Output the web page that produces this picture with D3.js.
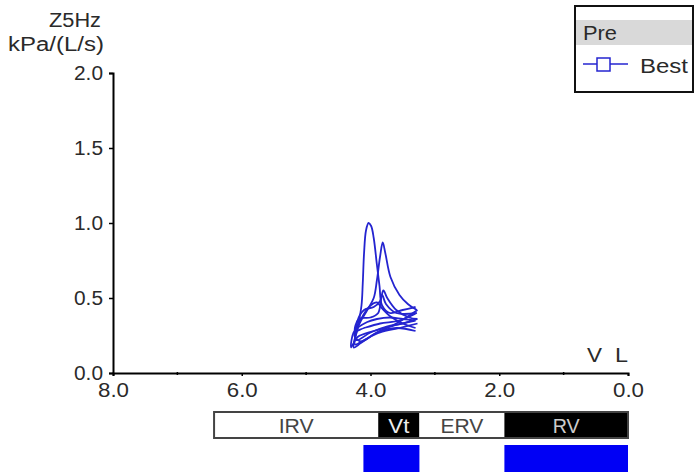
<!DOCTYPE html>
<html>
<head>
<meta charset="utf-8">
<script src="https://cdn.jsdelivr.net/npm/d3@7"></script>
<style>
  html, body { margin: 0; padding: 0; background: #fff; }
  svg { display: block; font-family: "Liberation Sans", Arial, sans-serif; }
</style>
</head>
<body>
<svg id="chart" width="695" height="472"></svg>
<script>
// Axis ticks
const xTicks = [8, 6, 4, 2, 0];
const xMinorTicks = [7, 5, 3, 1];
const yTicks = [0, 0.5, 1.0, 1.5, 2.0];

// Lung volume compartments (L), left to right on the reversed volume axis
const compartments = ["IRV", "Vt", "ERV", "RV"];
const compartmentEdges = [6.43, 3.88, 3.24, 1.92, 0.0];
const compartmentFill = ["#fff", "#000", "#fff", "#000"];
const compartmentText = ["#444", "#eee", "#444", "#ccc"];
const compartmentLabelWidth = [35, 21, 43, 27];

// Measured volume ranges shown under the compartment bar
const measuredRanges = [[4.11, 3.24], [1.92, 0.0]];

// Z5Hz impedance loops, one per breath: [volume L, kPa/(L/s)]
const breath1 = [[3.27,0.42],[3.60,0.33],[3.90,0.27],[4.15,0.20],[4.26,0.17],[4.20,0.30],[4.14,0.45],[4.12,0.60],[4.10,0.80],[4.07,0.95],[4.03,1.00],[3.99,0.98],[3.95,0.90],[3.90,0.72],[3.86,0.58],[3.82,0.45],[3.70,0.40],[3.50,0.42],[3.30,0.44]];
const breath2 = [[3.27,0.33],[3.55,0.30],[3.85,0.27],[4.10,0.22],[4.24,0.19],[4.18,0.32],[4.05,0.42],[3.95,0.50],[3.90,0.62],[3.85,0.78],[3.81,0.87],[3.77,0.80],[3.69,0.64],[3.55,0.52],[3.42,0.46],[3.28,0.42]];
const breath3 = [[3.27,0.36],[3.50,0.33],[3.75,0.31],[4.00,0.27],[4.22,0.22],[4.20,0.35],[4.10,0.42],[3.95,0.44],[3.85,0.48],[3.80,0.55],[3.74,0.50],[3.60,0.42],[3.40,0.37],[3.27,0.36]];
const breath4 = [[3.30,0.28],[3.60,0.30],[3.90,0.27],[4.15,0.21],[4.25,0.25],[4.12,0.38],[4.00,0.45],[3.90,0.47],[3.82,0.43],[3.70,0.38],[3.50,0.33],[3.30,0.30]];
const breath5 = [[3.28,0.40],[3.55,0.35],[3.85,0.33],[4.10,0.30],[4.24,0.28],[4.18,0.36],[4.00,0.37],[3.88,0.40],[3.82,0.52],[3.76,0.46],[3.60,0.40],[3.28,0.40]];
const breath6 = [[3.30,0.35],[3.60,0.32],[3.95,0.28],[4.20,0.24],[4.30,0.17],[4.25,0.28],[4.05,0.34],[3.90,0.36],[3.70,0.37],[3.50,0.36],[3.30,0.35]];
const breaths = [breath1, breath2, breath3, breath4, breath5, breath6];

const svg = d3.select("#chart");
const x = d3.scaleLinear().domain([8, 0]).range([113, 628]);
const y = d3.scaleLinear().domain([0, 2]).range([373, 73]);
const textColor = "#2a2a2a";
const lineBlue = "#2424d0";
const fontSize = 20;

// Text fitted to a given width (the chart's lettering is set wide)
function label(parent, px, py, txt, width, anchor, fill) {
  return parent.append("text")
    .attr("x", px).attr("y", py)
    .attr("text-anchor", anchor)
    .attr("font-size", fontSize)
    .attr("fill", fill || textColor)
    .attr("textLength", width)
    .attr("lengthAdjust", "spacingAndGlyphs")
    .text(txt);
}

// Axes
const xAxis = d3.axisBottom(x).tickValues(xTicks).tickFormat(d3.format(".1f")).tickSize(3).tickPadding(7);
const gx = svg.append("g").attr("transform", `translate(0,${y(0)})`).call(xAxis);
gx.select(".domain").attr("stroke", "#000").attr("stroke-width", 2);
gx.selectAll(".tick line").attr("stroke", "#000").attr("stroke-width", 1.5);
gx.selectAll(".tick text").attr("font-size", fontSize).attr("fill", textColor)
  .attr("font-family", "Liberation Sans, Arial, sans-serif")
  .attr("textLength", 31).attr("lengthAdjust", "spacingAndGlyphs");
gx.selectAll(".minor").data(xMinorTicks).enter().append("line")
  .attr("class", "minor")
  .attr("x1", d => x(d)).attr("x2", d => x(d)).attr("y1", -1).attr("y2", 2)
  .attr("stroke", "#000").attr("stroke-width", 1.5);

const yAxis = d3.axisLeft(y).tickValues(yTicks).tickFormat(d3.format(".1f")).tickSize(4).tickPadding(6);
const gy = svg.append("g").attr("transform", `translate(${x(8)},0)`).call(yAxis);
gy.select(".domain").attr("stroke", "#000").attr("stroke-width", 2);
gy.selectAll(".tick line").attr("stroke", "#000").attr("stroke-width", 1.5);
gy.selectAll(".tick text").attr("font-size", fontSize).attr("fill", textColor)
  .attr("font-family", "Liberation Sans, Arial, sans-serif")
  .attr("textLength", 29).attr("lengthAdjust", "spacingAndGlyphs");

// Axis titles
label(svg, 101, 27, "Z5Hz", 52, "end");
label(svg, 104, 51, "kPa/(L/s)", 96, "end");
label(svg, 587, 362, "V", 15, "start");
label(svg, 615, 362, "L", 13, "start");

// Impedance loops
const line = d3.line().x(d => x(d[0])).y(d => y(d[1])).curve(d3.curveCatmullRom.alpha(0.5));
svg.append("g").selectAll("path").data(breaths).enter().append("path")
  .attr("d", line).attr("fill", "none").attr("stroke", lineBlue)
  .attr("stroke-width", 1.8).attr("stroke-linejoin", "round");

// Compartment bar
const barTop = 412, barH = 26;
const bar = svg.append("g");
compartments.forEach((name, i) => {
  const x0 = x(compartmentEdges[i]), x1 = x(compartmentEdges[i + 1]);
  bar.append("rect").attr("x", x0).attr("y", barTop).attr("width", x1 - x0).attr("height", barH)
    .attr("fill", compartmentFill[i]);
  label(bar, (x0 + x1) / 2, barTop + 21, name, compartmentLabelWidth[i], "middle", compartmentText[i]);
});
bar.append("rect").attr("x", x(compartmentEdges[0])).attr("y", barTop)
  .attr("width", x(compartmentEdges[4]) - x(compartmentEdges[0])).attr("height", barH)
  .attr("fill", "none").attr("stroke", "#444").attr("stroke-width", 2);

// Measured ranges
svg.append("g").selectAll("rect").data(measuredRanges).enter().append("rect")
  .attr("x", d => x(d[0])).attr("y", 445)
  .attr("width", d => x(d[1]) - x(d[0])).attr("height", 27)
  .attr("fill", "#0000f5");

// Legend
const lg = svg.append("g");
lg.append("rect").attr("x", 575).attr("y", 6).attr("width", 118).attr("height", 86)
  .attr("fill", "#fff").attr("stroke", "#111").attr("stroke-width", 2);
lg.append("rect").attr("x", 576).attr("y", 20).attr("width", 116).attr("height", 25).attr("fill", "#d9d9d9");
label(lg, 583, 40, "Pre", 34, "start");
lg.append("line").attr("x1", 583).attr("x2", 628).attr("y1", 64).attr("y2", 64)
  .attr("stroke", lineBlue).attr("stroke-width", 1.5);
lg.append("rect").attr("x", 597).attr("y", 58).attr("width", 13).attr("height", 13)
  .attr("fill", "#fff").attr("stroke", lineBlue).attr("stroke-width", 1.5);
label(lg, 640, 73, "Best", 48, "start");
</script>
</body>
</html>
